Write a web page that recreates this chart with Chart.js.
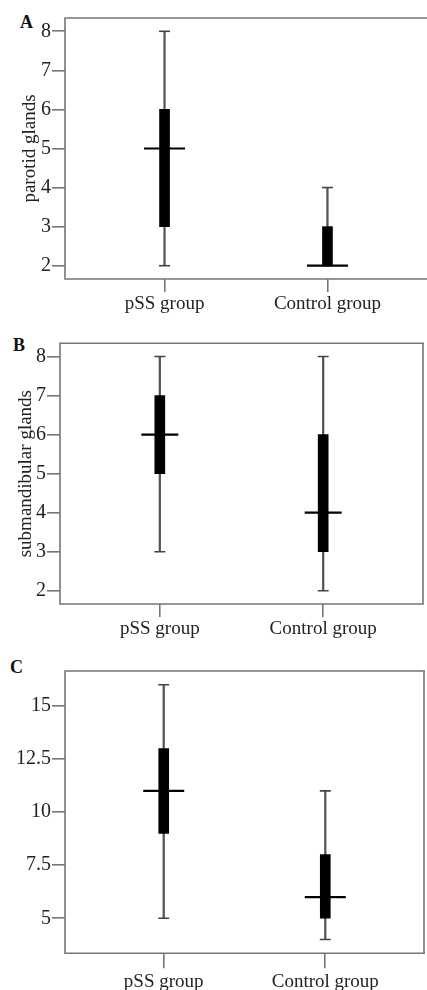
<!DOCTYPE html>
<html>
<head>
<meta charset="utf-8">
<script src="https://cdn.jsdelivr.net/npm/chart.js@4/dist/chart.umd.min.js"></script>
<style>
  html, body { margin:0; padding:0; background:#fff; width:427px; height:990px; overflow:hidden; }
  .panel { position:absolute; left:0; }
  .lbl { position:absolute; font-family:"Liberation Serif","Times New Roman",serif; font-weight:bold; font-size:18px; line-height:18px; color:#111; }
</style>
</head>
<body>
<div class="lbl" style="left:20px;top:13px;">A</div>
<div class="lbl" style="left:13px;top:336px;">B</div>
<div class="lbl" style="left:10px;top:658px;">C</div>
<div class="panel" style="top:0px;width:427px;height:320px;"><canvas id="cA"></canvas></div>
<div class="panel" style="top:320px;width:427px;height:320px;"><canvas id="cB"></canvas></div>
<div class="panel" style="top:640px;width:427px;height:350px;"><canvas id="cC"></canvas></div>
<script>
// ---------- data ----------
const categories = ['pSS group', 'Control group'];

// Panel A: parotid glands
const parotidMin    = [2, 2];
const parotidQ1     = [3, 2];
const parotidMedian = [5, 2];
const parotidQ3     = [6, 3];
const parotidMax    = [8, 4];
const parotidTicks  = [2, 3, 4, 5, 6, 7, 8];

// Panel B: submandibular glands
const submandMin    = [3, 2];
const submandQ1     = [5, 3];
const submandMedian = [6, 4];
const submandQ3     = [7, 6];
const submandMax    = [8, 8];
const submandTicks  = [2, 3, 4, 5, 6, 7, 8];

// Panel C: total
const totalMin    = [5, 4];
const totalQ1     = [9, 5];
const totalMedian = [11, 6];
const totalQ3     = [13, 8];
const totalMax    = [16, 11];
const totalTicks  = [5, 7.5, 10, 12.5, 15];

// ---------- drawing ----------
const FONT = '"Liberation Serif","Times New Roman",serif';
const AXIS_COLOR = '#767676';

const framePlugin = {
  id: 'frame',
  beforeDatasetsDraw(chart, args, opts) {
    const a = chart.chartArea, ctx = chart.ctx;
    ctx.save();
    ctx.strokeStyle = AXIS_COLOR;
    ctx.lineWidth = 1.6;
    ctx.beginPath();
    ctx.moveTo(a.right + 1, a.top);
    ctx.lineTo(a.left, a.top);
    ctx.lineTo(a.left, a.bottom);
    ctx.lineTo(a.right + 1, a.bottom);
    if (opts.rightSide) { ctx.moveTo(a.right, a.top); ctx.lineTo(a.right, a.bottom); }
    ctx.stroke();
    ctx.restore();
  }
};

function pts(arr) { return arr.map((v, i) => ({ x: i, y: v })); }
function rng(lo, hi) { return lo.map((v, i) => ({ x: i, y: [v, hi[i]] })); }

function makePanel(id, s, cfg) {
  const datasets = [
    { type: 'line', data: pts(s.median), showLine: false, pointStyle: 'line',
      pointRadius: cfg.medianRadius, pointHoverRadius: cfg.medianRadius,
      pointBorderColor: '#000', pointBorderWidth: 2.2 },
    { type: 'bar', data: rng(s.q1, s.q3), barThickness: 10, grouped: false,
      backgroundColor: '#000', borderWidth: 0 },
    { type: 'line', data: pts(s.max), showLine: false, pointStyle: 'line',
      pointRadius: 5.5, pointBorderColor: '#444', pointBorderWidth: 1.6 },
    { type: 'line', data: pts(s.min), showLine: false, pointStyle: 'line',
      pointRadius: 5.5, pointBorderColor: '#444', pointBorderWidth: 1.6 },
    { type: 'bar', data: rng(s.min, s.max), barThickness: 1.6, grouped: false,
      backgroundColor: '#555', borderWidth: 0 }
  ];
  return new Chart(document.getElementById(id), {
    type: 'bar',
    data: { datasets },
    plugins: [framePlugin],
    options: {
      responsive: true, maintainAspectRatio: false, animation: false,
      devicePixelRatio: 1,
      layout: { autoPadding: false, padding: { top: cfg.top, right: cfg.right, left: 0, bottom: 0 } },
      plugins: { legend: { display: false }, tooltip: { enabled: false },
                 frame: { rightSide: cfg.rightSide } },
      scales: {
        x: {
          type: 'linear', min: -0.611, max: 1.611, offset: false,
          afterBuildTicks: sc => { sc.ticks = categories.map((c, i) => ({ value: i })); },
          afterFit: sc => { sc.height = cfg.xHeight; sc.paddingLeft = 0; sc.paddingRight = 0; },
          border: { display: false },
          grid: { offset: false, drawOnChartArea: false, drawTicks: true, tickLength: cfg.xTick, color: AXIS_COLOR, lineWidth: 1.6 },
          ticks: { callback: v => categories[v], color: '#222', padding: cfg.xPad, maxRotation: 0,
                   autoSkip: false, font: { family: FONT, size: 19 } }
        },
        y: {
          type: 'linear', min: cfg.yMin, max: cfg.yMax,
          afterBuildTicks: sc => { sc.ticks = s.ticks.map(v => ({ value: v })); },
          afterFit: sc => { sc.width = cfg.left; },
          border: { display: false },
          grid: { drawOnChartArea: false, drawTicks: true, tickLength: 13, color: AXIS_COLOR, lineWidth: 1.6 },
          ticks: { color: '#222', padding: 1, font: { family: FONT, size: 20 } },
          title: { display: !!cfg.title, text: cfg.title, color: '#222',
                   font: { family: FONT, size: 19 }, padding: { top: cfg.titlePad, bottom: 0 } }
        }
      }
    }
  });
}

makePanel('cA',
  { min: parotidMin, q1: parotidQ1, median: parotidMedian, q3: parotidQ3, max: parotidMax, ticks: parotidTicks },
  { top: 18, right: 0, left: 65, xHeight: 41, xTick: 13, xPad: 1, yMin: 1.66, yMax: 8.34,
    title: 'parotid glands', titlePad: 19, medianRadius: 20.5, rightSide: false });

makePanel('cB',
  { min: submandMin, q1: submandQ1, median: submandMedian, q3: submandQ3, max: submandMax, ticks: submandTicks },
  { top: 23.3, right: 4, left: 60, xHeight: 36, xTick: 13, xPad: 1, yMin: 1.66, yMax: 8.34,
    title: 'submandibular glands', titlePad: 15, medianRadius: 18.5, rightSide: true });

makePanel('cC',
  { min: totalMin, q1: totalQ1, median: totalMedian, q3: totalQ3, max: totalMax, ticks: totalTicks },
  { top: 31, right: 3, left: 65, xHeight: 36.7, xTick: 15, xPad: 2, yMin: 3.35, yMax: 16.65,
    title: '', titlePad: 0, medianRadius: 20.5, rightSide: true });
</script>
</body>
</html>
